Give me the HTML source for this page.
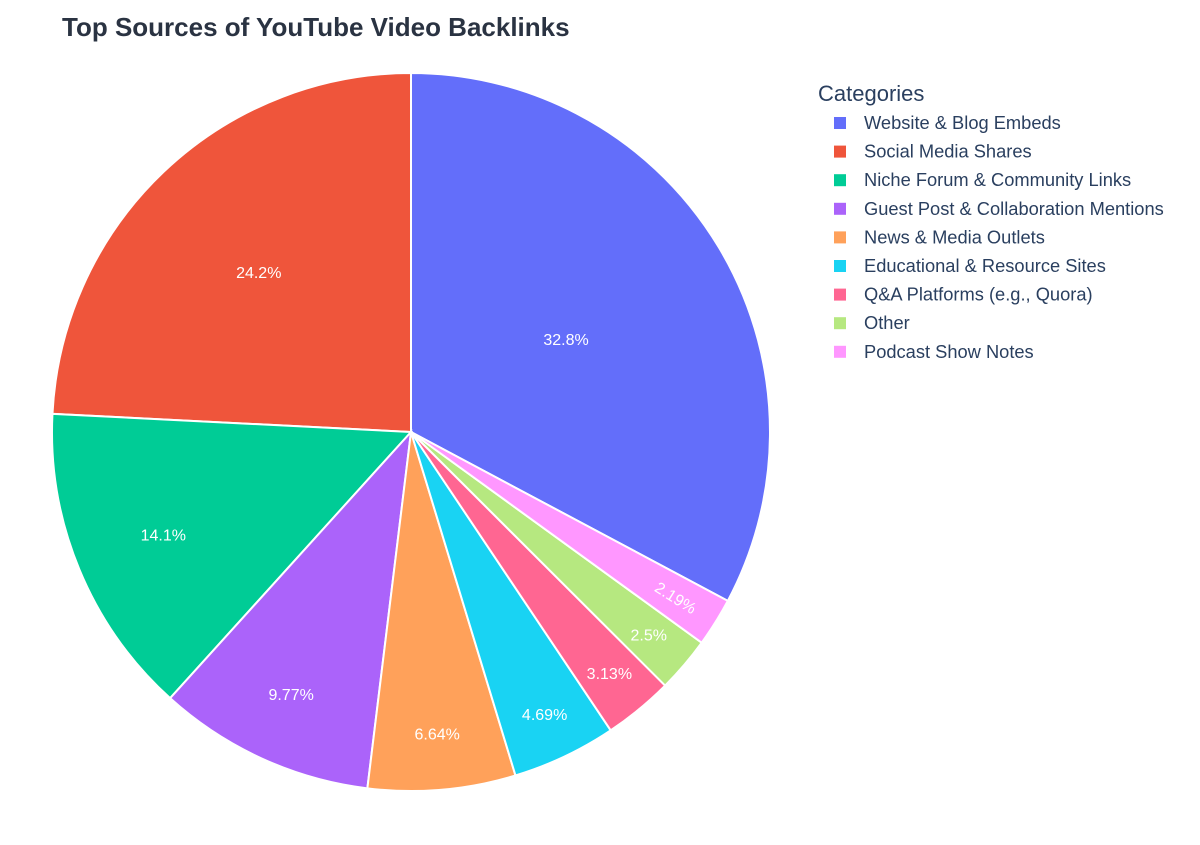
<!DOCTYPE html>
<html><head><meta charset="utf-8"><style>
body{margin:0;background:#fff;font-family:"Liberation Sans",Arial,sans-serif;}
</style></head><body>
<svg width="1200" height="840" xmlns="http://www.w3.org/2000/svg">
<rect width="1200" height="840" fill="#fff"/>
<text x="62" y="36" font-size="26" font-weight="bold" fill="#2a3342">Top Sources of YouTube Video Backlinks</text>
<g id="slices"></g>
<g id="labels"></g>
<text x="818" y="101" font-size="22" fill="#2a3f5f">Categories</text>
<g id="legend"></g>
</svg>
<script>
const categories=["Website & Blog Embeds","Social Media Shares","Niche Forum & Community Links","Guest Post & Collaboration Mentions","News & Media Outlets","Educational & Resource Sites","Q&A Platforms (e.g., Quora)","Other","Podcast Show Notes"];
const values=[32.8,24.2,14.1,9.77,6.64,4.69,3.13,2.5,2.19];
const valueLabels=["32.8%","24.2%","14.1%","9.77%","6.64%","4.69%","3.13%","2.5%","2.19%"];
const colors=["#636efa","#ef553b","#00cc96","#ab63fa","#ffa15a","#19d3f3","#ff6692","#b6e880","#ff97ff"];
const NS="http://www.w3.org/2000/svg";
const cx=411,cy=432,R=359;
const total=values.reduce((a,b)=>a+b,0);
const sg=document.getElementById('slices'),lg=document.getElementById('labels'),leg=document.getElementById('legend');
function pt(a,r){return [cx+r*Math.sin(a),cy-r*Math.cos(a)];}
const start=values[0]/total;
let acc=0;
values.forEach((v,i)=>{
  const f=v/total;
  const a0=(start-acc)*2*Math.PI,a1=(start-acc-f)*2*Math.PI;acc+=f;
  const p0=pt(a0,R),p1=pt(a1,R);
  const p=document.createElementNS(NS,'path');
  p.setAttribute('d',`M${cx},${cy}L${p0[0]},${p0[1]}A${R},${R} 0 ${f>0.5?1:0} 0 ${p1[0]},${p1[1]}Z`);
  p.setAttribute('fill',colors[i]);p.setAttribute('stroke','#fff');p.setAttribute('stroke-width','2');
  
  
  sg.appendChild(p);
  const am=(a0+a1)/2,rr=R*Math.min(0.87,0.93-1.3*f),q=pt(am,rr);
  const t=document.createElementNS(NS,'text');
  t.setAttribute('x',q[0]);t.setAttribute('y',q[1]+6);t.setAttribute('text-anchor','middle');
  t.setAttribute('font-size','16');t.setAttribute('fill','#fff');
  if(f<0.023){t.setAttribute('transform',`rotate(${am*180/Math.PI-90} ${q[0]} ${q[1]})`);}
  t.textContent=valueLabels[i];
  
  
  lg.appendChild(t);
  const y=123+i*28.6;
  const g=document.createElementNS(NS,'g');
  
  
  const r=document.createElementNS(NS,'rect');
  r.setAttribute('x',834);r.setAttribute('y',y-6);r.setAttribute('width',12);r.setAttribute('height',12);r.setAttribute('fill',colors[i]);
  const lt=document.createElementNS(NS,'text');
  lt.setAttribute('x',864);lt.setAttribute('y',y+6);lt.setAttribute('font-size','18.3');lt.setAttribute('fill','#2a3f5f');
  lt.textContent=categories[i];
  g.appendChild(r);g.appendChild(lt);leg.appendChild(g);
});
</script>
</body></html>
